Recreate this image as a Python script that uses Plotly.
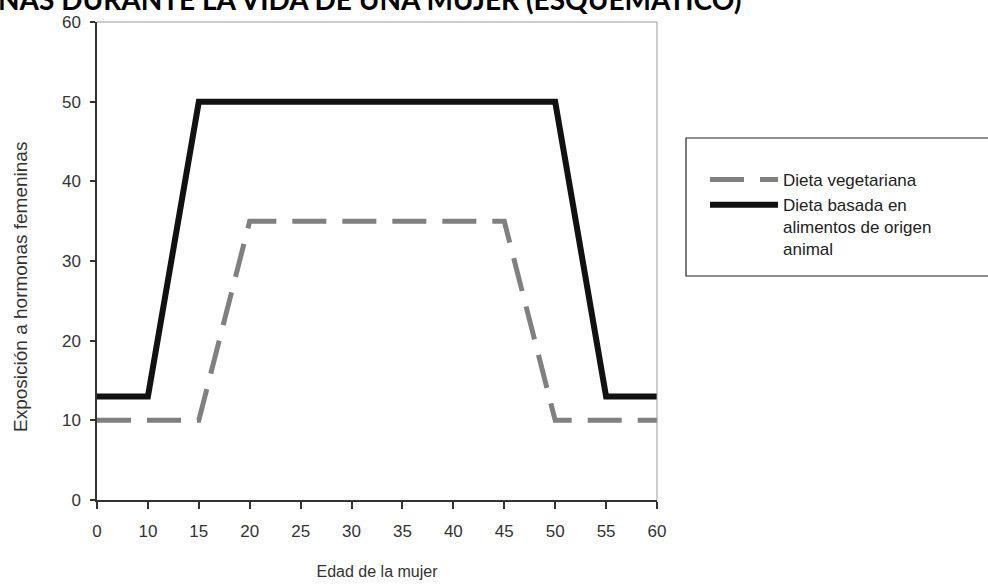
import plotly.graph_objects as go

ages = ["0", "10", "15", "20", "25", "30", "35", "40", "45", "50", "55", "60"]
vegetariana = [10, 10, 10, 35, 35, 35, 35, 35, 35, 10, 10, 10]
animal = [13, 13, 50, 50, 50, 50, 50, 50, 50, 50, 13, 13]

y_ticks = [0, 10, 20, 30, 40, 50, 60]

name_veg = "Dieta vegetariana"
name_ani = "Dieta basada en<br>alimentos de origen<br>animal"
title_text = "NAS DURANTE LA VIDA DE UNA MUJER (ESQUEMÁTICO)"
x_title = "Edad de la mujer"
y_title = "Exposición a hormonas femeninas"

W, H = 988, 586
L, R, T, B = 97, 331, 22, 86
PW, PH = W - L - R, H - T - B

def px(xp):
    return (xp - L) / PW

def py(yp):
    return (H - B - yp) / PH

font_main = "Liberation Sans, Arial, sans-serif"
txt = "#333333"

fig = go.Figure()
fig.add_trace(go.Scatter(
    x=ages, y=vegetariana, name=name_veg, mode="lines",
    line=dict(color="#808080", width=5, dash="34px,16px"),
))
fig.add_trace(go.Scatter(
    x=ages, y=animal, name=name_ani, mode="lines",
    line=dict(color="#111111", width=6),
))

fig.update_layout(
    width=W, height=H,
    margin=dict(l=L, r=R, t=T, b=B, autoexpand=False),
    paper_bgcolor="white", plot_bgcolor="white",
    font=dict(family=font_main, size=16, color=txt),
    showlegend=True,
    legend=dict(
        x=px(705), y=py(162), xanchor="left", yanchor="top",
        bgcolor="rgba(0,0,0,0)", borderwidth=0,
        font=dict(family=font_main, size=17, color="#222222"),
        itemwidth=68, valign="top",
        traceorder="normal",
    ),
    xaxis=dict(
        type="category", categoryorder="array", categoryarray=ages,
        range=[0, len(ages) - 1],
        showgrid=False, zeroline=False,
        showline=True, linecolor="#333333", linewidth=1.5,
        ticks="outside", ticklen=7, tickcolor="#333333", tickwidth=1.5,
        ticklabelstandoff=8,
        tickfont=dict(family=font_main, size=17, color=txt),
        title=dict(text=x_title, standoff=26,
                   font=dict(family=font_main, size=16, color=txt)),
    ),
    yaxis=dict(
        range=[0, 60], tickvals=y_ticks,
        showgrid=False, zeroline=False,
        showline=True, linecolor="#333333", linewidth=1.5,
        ticks="outside", ticklen=5, tickcolor="#333333", tickwidth=1.5,
        ticklabelstandoff=6,
        tickfont=dict(family=font_main, size=17, color=txt),
    ),
    shapes=[
        dict(type="line", xref="paper", yref="paper", x0=0, x1=1, y0=1, y1=1,
             line=dict(color="#9a9a9a", width=1)),
        dict(type="line", xref="paper", yref="paper", x0=1, x1=1, y0=0, y1=1,
             line=dict(color="#9a9a9a", width=1)),
        dict(type="rect", xref="paper", yref="paper",
             x0=px(686), x1=px(995), y0=py(276), y1=py(138),
             line=dict(color="#222222", width=1.2), fillcolor="rgba(0,0,0,0)"),
    ],
    annotations=[
        dict(text=y_title, textangle=-90, xref="paper", yref="paper",
             x=px(20), y=py(287), xanchor="center", yanchor="middle",
             showarrow=False,
             font=dict(family=font_main, size=19, color=txt)),
        dict(text="<b>" + title_text + "</b>", xref="paper", yref="paper",
             x=px(-4), y=py(18), xanchor="left", yanchor="bottom",
             showarrow=False,
             font=dict(family="Lato, sans-serif", size=28, color="#000000")),
    ],
)

fig.write_html("out.html", config={"displayModeBar": False},
               post_script="document.body.style.margin='0px';")
